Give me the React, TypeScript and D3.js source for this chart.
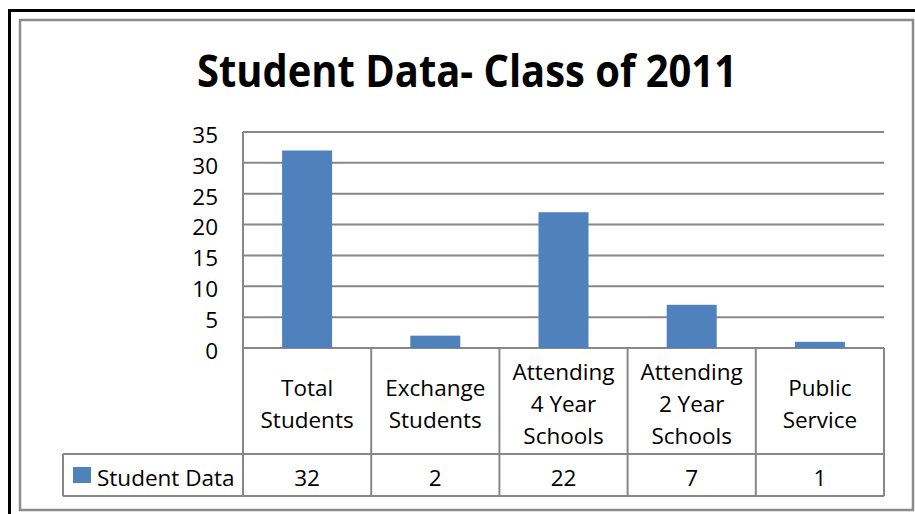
import React, { useEffect, useRef } from "react";
import * as d3 from "d3";

const title = "Student Data- Class of 2011";
const seriesName = "Student Data";
const categories = [
  ["Total", "Students"],
  ["Exchange", "Students"],
  ["Attending", "4 Year", "Schools"],
  ["Attending", "2 Year", "Schools"],
  ["Public", "Service"],
];
const values = [32, 2, 22, 7, 1];
const yTicks = [0, 5, 10, 15, 20, 25, 30, 35];

const FONT = "'Open Sans', 'Noto Sans', sans-serif";
const GRID = "#878787";
const BAR = "#4F81BD";

const App = () => {
  const ref = useRef<SVGSVGElement>(null);

  useEffect(() => {
    document.body.style.margin = "0";
    const svg = d3.select(ref.current);
    svg.selectAll("*").remove();

    const plot = { left: 243, right: 884, top: 132, bottom: 348 };
    const headerBottom = 454;
    const tableBottom = 496;
    const legendLeft = 63;

    const keys = categories.map((c) => c.join(" "));
    const x = d3.scaleBand().domain(keys).range([plot.left, plot.right]);
    const y = d3.scaleLinear().domain([0, 35]).range([plot.bottom, plot.top]);

    // outer frames
    svg
      .append("rect")
      .attr("x", 9.5)
      .attr("y", 10.5)
      .attr("width", 1000)
      .attr("height", 1000)
      .attr("fill", "#fff")
      .attr("stroke", "#000")
      .attr("stroke-width", 3);
    svg
      .append("rect")
      .attr("x", 20)
      .attr("y", 20)
      .attr("width", 893)
      .attr("height", 490)
      .attr("fill", "#fff")
      .attr("stroke", "#8c8c8c")
      .attr("stroke-width", 2.5);

    svg
      .append("text")
      .attr("x", 467)
      .attr("y", 87)
      .attr("text-anchor", "middle")
      .attr("font-family", FONT)
      .attr("font-weight", "bold")
      .attr("font-size", 45)
      .attr("textLength", 540)
      .attr("lengthAdjust", "spacingAndGlyphs")
      .text(title);

    // gridlines
    svg
      .append("g")
      .selectAll("line")
      .data(yTicks)
      .join("line")
      .attr("x1", plot.left)
      .attr("x2", plot.right)
      .attr("y1", (d) => y(d))
      .attr("y2", (d) => y(d))
      .attr("stroke", GRID)
      .attr("stroke-width", 2);

    svg
      .append("line")
      .attr("x1", plot.left)
      .attr("x2", plot.left)
      .attr("y1", plot.top)
      .attr("y2", tableBottom)
      .attr("stroke", GRID)
      .attr("stroke-width", 2);

    svg
      .append("g")
      .selectAll("text")
      .data(yTicks)
      .join("text")
      .attr("x", 218)
      .attr("y", (d) => y(d))
      .attr("dy", "0.48em")
      .attr("text-anchor", "end")
      .attr("font-family", FONT)
      .attr("font-size", 22.5)
      .text((d) => d);

    // bars
    const bw = x.bandwidth() * 0.39;
    svg
      .append("g")
      .selectAll("rect")
      .data(values)
      .join("rect")
      .attr("x", (d, i) => x(keys[i])! + (x.bandwidth() - bw) / 2)
      .attr("y", (d) => y(d))
      .attr("width", bw)
      .attr("height", (d) => y(0) - y(d))
      .attr("fill", BAR);

    // data table
    const table = svg.append("g").attr("stroke", GRID).attr("stroke-width", 2);
    table
      .selectAll("line.col")
      .data([...keys.map((k) => x(k)!), plot.right])
      .join("line")
      .attr("x1", (d) => d)
      .attr("x2", (d) => d)
      .attr("y1", plot.bottom)
      .attr("y2", tableBottom);
    table
      .append("line")
      .attr("x1", legendLeft)
      .attr("x2", plot.right)
      .attr("y1", headerBottom)
      .attr("y2", headerBottom);
    table
      .append("line")
      .attr("x1", legendLeft)
      .attr("x2", plot.right)
      .attr("y1", tableBottom)
      .attr("y2", tableBottom);
    table
      .append("line")
      .attr("x1", legendLeft)
      .attr("x2", legendLeft)
      .attr("y1", headerBottom)
      .attr("y2", tableBottom);

    const lineH = 32;
    const headerMid = (plot.bottom + headerBottom) / 2 + 3;
    const valueMid = (headerBottom + tableBottom) / 2 + 3;
    const labels = svg
      .append("g")
      .attr("font-family", FONT)
      .attr("font-size", 22.5)
      .attr("text-anchor", "middle");
    categories.forEach((lines, i) => {
      const cx = x(keys[i])! + x.bandwidth() / 2;
      const first = headerMid - ((lines.length - 1) * lineH) / 2;
      lines.forEach((t, j) => {
        labels
          .append("text")
          .attr("x", cx)
          .attr("y", first + j * lineH)
          .attr("dy", "0.36em")
          .text(t);
      });
      labels
        .append("text")
        .attr("x", cx)
        .attr("y", valueMid)
        .attr("dy", "0.36em")
        .text(values[i]);
    });

    // legend key
    svg
      .append("rect")
      .attr("x", 73)
      .attr("y", 467)
      .attr("width", 18)
      .attr("height", 16)
      .attr("fill", BAR);
    svg
      .append("text")
      .attr("x", 97)
      .attr("y", valueMid)
      .attr("dy", "0.36em")
      .attr("font-family", FONT)
      .attr("font-size", 22.5)
      .text(seriesName);
  }, []);

  return (
    <div id="chartD3">
      <svg ref={ref} width={915} height={514} style={{ display: "block" }}></svg>
    </div>
  );
};

export default App;
